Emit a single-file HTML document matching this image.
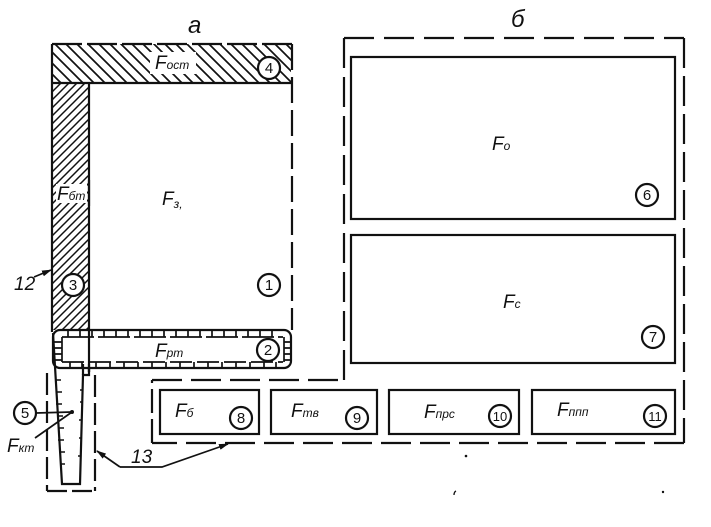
<!DOCTYPE html>
<html><head><meta charset="utf-8"><style>
html,body{margin:0;padding:0;background:#fff;}
svg{display:block;}
text{font-family:"Liberation Sans","DejaVu Sans",sans-serif;fill:#111;}
.f{font-style:italic;font-size:19px;}
.s{font-size:12px;font-style:italic;}
.n{font-size:15px;text-anchor:middle;}
</style></head><body>
<svg width="711" height="527" viewBox="0 0 711 527" xmlns="http://www.w3.org/2000/svg">
<defs>
<pattern id="h1" patternUnits="userSpaceOnUse" width="11" height="11">
<path d="M0,0 L11,11 M-2,9 L2,13 M9,-2 L13,2" stroke="#111" stroke-width="1.7"/>
</pattern>
<pattern id="h2" patternUnits="userSpaceOnUse" width="8" height="8">
<path d="M0,8 L8,0 M-2,2 L2,-2 M6,10 L10,6" stroke="#111" stroke-width="1.5"/>
</pattern>
<marker id="ar" markerWidth="10" markerHeight="8" refX="9" refY="4" orient="auto" markerUnits="userSpaceOnUse">
<path d="M0,1 L10,4 L0,7 z" fill="#111"/>
</marker>
</defs>
<rect width="711" height="527" fill="#fff"/>

<text x="188" y="33" style="font-style:italic;font-size:24px;">а</text>
<text x="511" y="27" style="font-style:italic;font-size:24px;">б</text>

<rect x="52" y="44" width="239" height="39" fill="url(#h1)"/>
<rect x="52" y="83" width="37" height="247" fill="url(#h2)"/>
<g stroke="#111" stroke-width="2.2" fill="none">
<line x1="52" y1="44" x2="292" y2="44" stroke-dasharray="30 5"/>
<line x1="292" y1="44" x2="292" y2="330" stroke-dasharray="26 7"/>
<line x1="52" y1="44" x2="52" y2="332"/>
<line x1="52" y1="83" x2="291" y2="83"/>
<line x1="89" y1="83" x2="89" y2="372"/>
</g>
<rect x="150" y="52" width="46" height="22" fill="#fff"/>
<rect x="56" y="184" width="31" height="19" fill="#fff"/>
<line x1="89" y1="180" x2="89" y2="206" stroke="#111" stroke-width="2.2"/>
<text class="f" x="155" y="69">F<tspan class="s">ост</tspan></text>
<text class="f" x="57" y="200">F<tspan class="s">бт</tspan></text>
<text class="f" x="162" y="205">F<tspan class="s" dy="3">з,</tspan></text>

<rect x="53" y="330" width="238" height="38" rx="7" fill="#fff" stroke="#111" stroke-width="2.2"/>
<g stroke="#111" stroke-width="1.7" fill="none">
<line x1="62" y1="337" x2="283" y2="337" stroke-dasharray="32 4"/>
<line x1="62" y1="362" x2="283" y2="362" stroke-dasharray="22 5"/>
<line x1="62" y1="337" x2="62" y2="362"/>
<line x1="284" y1="337" x2="284" y2="362"/>
<line x1="89" y1="330" x2="89" y2="372" stroke-width="2.2"/>
<path d="M68,330v7M80,330v7M92,330v7M104,330v7M116,330v7M128,330v7M140,330v7M152,330v7M164,330v7M176,330v7M188,330v7M200,330v7M212,330v7M224,330v7M236,330v7M248,330v7M260,330v7M272,330v7"/>
<path d="M70,362v6M82,362v6M96,362v6M110,362v6M124,362v6M138,362v6M152,362v6M166,362v6M180,362v6M194,362v6M208,362v6M222,362v6M236,362v6M250,362v6M264,362v6M276,362v6"/>
<path d="M54,342h8M54,348h8M54,354h8M54,360h8M284,342h7M284,348h7M284,354h7M284,360h7"/>
</g>
<text class="f" x="155" y="357">F<tspan class="s">рт</tspan></text>

<g stroke="#111" stroke-width="2.2" fill="none">
<path d="M53,333 L62,484 L80,484 L83,375 L89,375 L89,364"/>
<path d="M83,375 L83,364"/>
<path d="M55,380h6M56,392h6M56,404h6M57,416h6M58,428h6M58,440h6M59,452h6M60,464h5" stroke-width="1.5"/>
<path d="M80,390h3M80,402h3M79,420h3M79,438h3M78,456h3" stroke-width="1.5"/>
<line x1="47" y1="373" x2="47" y2="491" stroke-dasharray="22 6"/>
<line x1="47" y1="491" x2="95" y2="491" stroke-dasharray="20 5"/>
<line x1="95" y1="375" x2="95" y2="491" stroke-dasharray="22 6"/>
</g>
<circle cx="25" cy="413" r="11" fill="#fff" stroke="#111" stroke-width="2.2"/>
<text class="n" x="25" y="418">5</text>
<line x1="36" y1="413" x2="72" y2="412" stroke="#111" stroke-width="1.7"/>
<line x1="35" y1="438" x2="72" y2="412" stroke="#111" stroke-width="1.7"/>
<circle cx="72" cy="412" r="2" fill="#111"/>
<text class="f" x="7" y="452">F<tspan class="s">кт</tspan></text>

<text x="14" y="290" style="font-size:19px;font-style:italic;">12</text>
<line x1="34" y1="277" x2="51" y2="270" stroke="#111" stroke-width="1.7" marker-end="url(#ar)"/>

<text x="131" y="463" style="font-size:19px;font-style:italic;">13</text>
<polyline points="120,467 97,451" fill="none" stroke="#111" stroke-width="1.7" marker-end="url(#ar)"/>
<polyline points="120,467 162,467 228,444" fill="none" stroke="#111" stroke-width="1.7" marker-end="url(#ar)"/>

<circle cx="269" cy="68" r="11" fill="#fff" stroke="#111" stroke-width="2.2"/>
<text class="n" x="269" y="73">4</text>
<circle cx="73" cy="285" r="11" fill="#fff" stroke="#111" stroke-width="2.2"/>
<text class="n" x="73" y="290">3</text>
<circle cx="269" cy="285" r="11" fill="#fff" stroke="#111" stroke-width="2.2"/>
<text class="n" x="269" y="290">1</text>
<circle cx="268" cy="350" r="11" fill="#fff" stroke="#111" stroke-width="2.2"/>
<text class="n" x="268" y="355">2</text>

<g stroke="#111" stroke-width="2.2" fill="none">
<line x1="344" y1="38" x2="684" y2="38" stroke-dasharray="30 10"/>
<line x1="684" y1="38" x2="684" y2="443" stroke-dasharray="30 8"/>
<line x1="684" y1="443" x2="152" y2="443" stroke-dasharray="30 9"/>
<line x1="152" y1="443" x2="152" y2="380" stroke-dasharray="24 6"/>
<line x1="152" y1="380" x2="344" y2="380" stroke-dasharray="30 9"/>
<line x1="344" y1="380" x2="344" y2="38" stroke-dasharray="30 9"/>
</g>
<g stroke="#111" stroke-width="2.2" fill="#fff">
<rect x="351" y="57" width="324" height="162"/>
<rect x="351" y="235" width="324" height="128"/>
<rect x="160" y="390" width="99" height="44"/>
<rect x="271" y="390" width="106" height="44"/>
<rect x="389" y="390" width="130" height="44"/>
<rect x="532" y="390" width="143" height="44"/>
</g>
<text class="f" x="492" y="150">F<tspan class="s">о</tspan></text>
<text class="f" x="503" y="308">F<tspan class="s">с</tspan></text>
<text class="f" x="175" y="417">F<tspan class="s">б</tspan></text>
<text class="f" x="291" y="417">F<tspan class="s">тв</tspan></text>
<text class="f" x="424" y="418">F<tspan class="s">прс</tspan></text>
<text class="f" x="557" y="416">F<tspan class="s">ппп</tspan></text>

<g>
<circle cx="647" cy="195" r="11" fill="#fff" stroke="#111" stroke-width="2.2"/>
<text class="n" x="647" y="200">6</text>
<circle cx="653" cy="337" r="11" fill="#fff" stroke="#111" stroke-width="2.2"/>
<text class="n" x="653" y="342">7</text>
<circle cx="241" cy="418" r="11" fill="#fff" stroke="#111" stroke-width="2.2"/>
<text class="n" x="241" y="423">8</text>
<circle cx="357" cy="418" r="11" fill="#fff" stroke="#111" stroke-width="2.2"/>
<text class="n" x="357" y="423">9</text>
<circle cx="500" cy="416" r="11" fill="#fff" stroke="#111" stroke-width="2.2"/>
<text class="n" x="500" y="421" style="font-size:13px">10</text>
<circle cx="655" cy="416" r="11" fill="#fff" stroke="#111" stroke-width="2.2"/>
<text class="n" x="655" y="421" style="font-size:13px">11</text>
</g>

<circle cx="466" cy="456" r="1.3" fill="#111"/>
<path d="M456,491 q-2,1 -2,4" stroke="#111" stroke-width="1.3" fill="none"/>
<circle cx="663" cy="492" r="1.2" fill="#111"/>
</svg>
</body></html>
